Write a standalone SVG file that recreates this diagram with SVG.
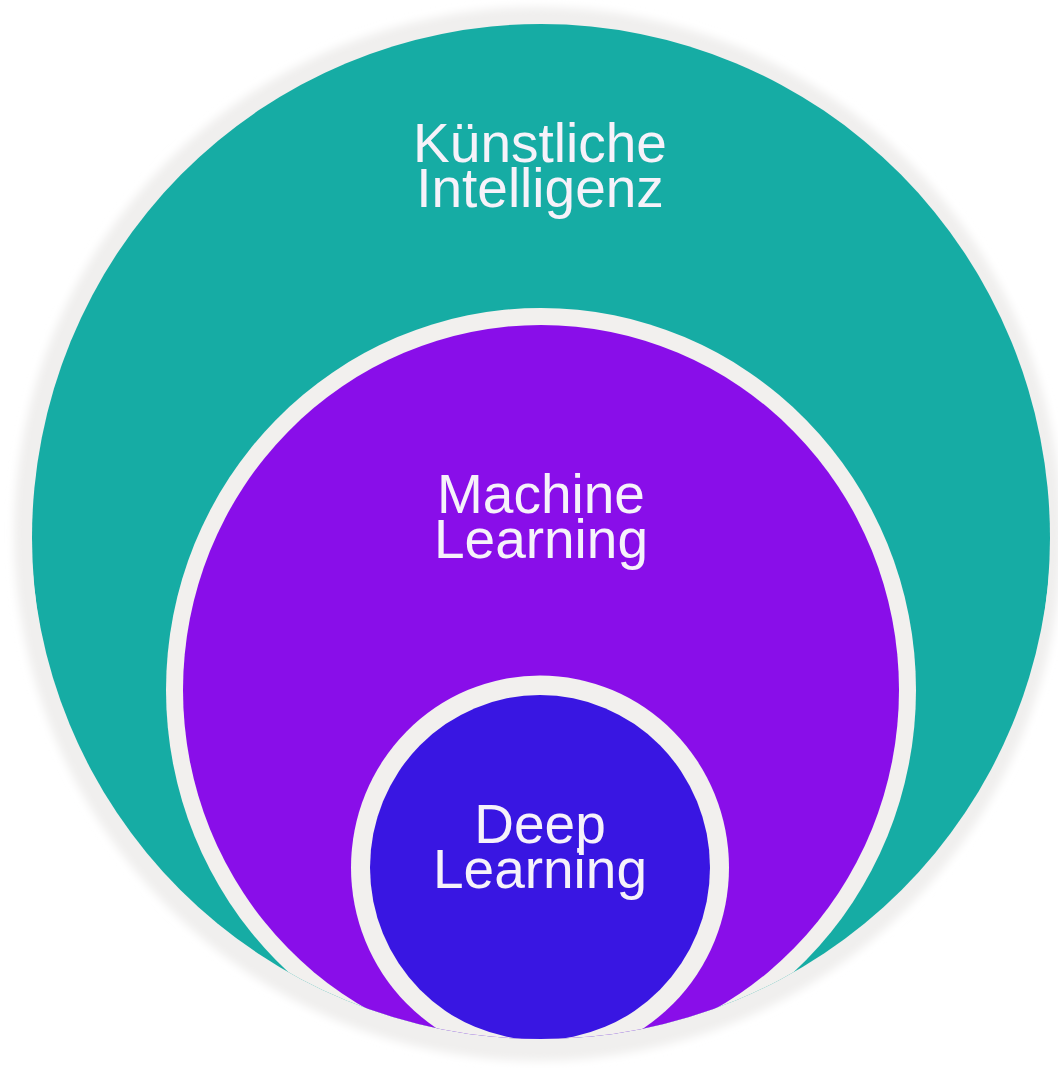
<svg xmlns="http://www.w3.org/2000/svg" width="1058" height="1068" viewBox="0 0 1058 1068">
  <defs>
    <style>
      .lbl { font-family: "Liberation Sans", Arial, sans-serif; font-size: 55px; fill: #f6f2fa; text-anchor: middle; }
      .ring { fill: #f2f0ee; }
    </style>
    <filter id="soft" x="-5%" y="-5%" width="110%" height="110%">
      <feGaussianBlur stdDeviation="4"/>
    </filter>
    <clipPath id="outerClip">
      <ellipse cx="541" cy="530" rx="510" ry="509"/>
    </clipPath>
  </defs>
  <rect x="0" y="0" width="1058" height="1068" fill="#ffffff"/>
  <ellipse cx="538" cy="534" rx="524" ry="527" fill="#f0efee" filter="url(#soft)"/>

  <g clip-path="url(#outerClip)">
    <g id="ki">
      <ellipse cx="541" cy="538" rx="509" ry="514" fill="#16aca4"/>
    </g>
    <g id="ml">
      <ellipse class="ring" cx="541" cy="690" rx="375" ry="382"/>
      <ellipse cx="541" cy="690" rx="358" ry="365" fill="#890ee9"/>
    </g>
    <g id="dl">
      <ellipse class="ring" cx="540" cy="867.5" rx="189" ry="192"/>
      <ellipse cx="540" cy="867.5" rx="170" ry="172.5" fill="#3916e2"/>
    </g>
  </g>

  <g id="ki-label">
    <text class="lbl" x="540" y="162"><tspan x="540" y="162">Künstliche</tspan><tspan x="540" y="207">Intelligenz</tspan></text>
  </g>
  <g id="ml-label">
    <text class="lbl" x="541" y="513"><tspan x="541" y="513">Machine</tspan><tspan x="541" y="558">Learning</tspan></text>
  </g>
  <g id="dl-label">
    <text class="lbl" x="540" y="843"><tspan x="540" y="843">Deep</tspan><tspan x="540" y="888">Learning</tspan></text>
  </g>
</svg>
